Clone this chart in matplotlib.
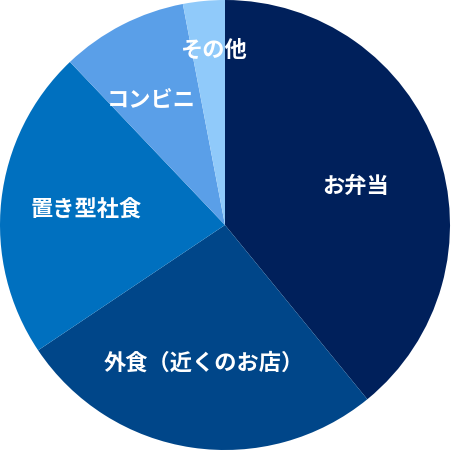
import matplotlib
matplotlib.use("Agg")
import matplotlib.pyplot as plt

categories = ["お弁当", "外食（近くのお店）", "置き型社食", "コンビニ", "その他"]
values = [39.1, 26.5, 22.3, 9.1, 3.0]
colors = ["#00205b", "#004689", "#0070bf", "#5a9fe8", "#90cafa"]
# label centers in pixel coordinates of the 451x450 image
label_px = [(356, 186), (204, 363), (86, 210), (151, 100), (213, 50)]

plt.rcParams['font.family'] = ['Noto Sans CJK JP', 'DejaVu Sans']

fig = plt.figure(figsize=(4.51, 4.5), dpi=100)
ax = fig.add_axes([0, 0, 1, 1])
ax.pie(values, colors=colors, startangle=90, counterclock=False, radius=1.0,
       wedgeprops=dict(linewidth=0, antialiased=True))
ax.set_xlim(-1.0, 1.0 + 2.0 / 450)
ax.set_ylim(-1.0, 1.0)
ax.set_aspect('equal')
ax.axis('off')

for name, (px, py) in zip(categories, label_px):
    u = (px - 225) / 225
    v = (225 - py) / 225
    ax.text(u, v, name, color="white", fontsize=16, fontweight="bold",
            ha="center", va="center")

fig.savefig("out.png", dpi=100, facecolor="white")
